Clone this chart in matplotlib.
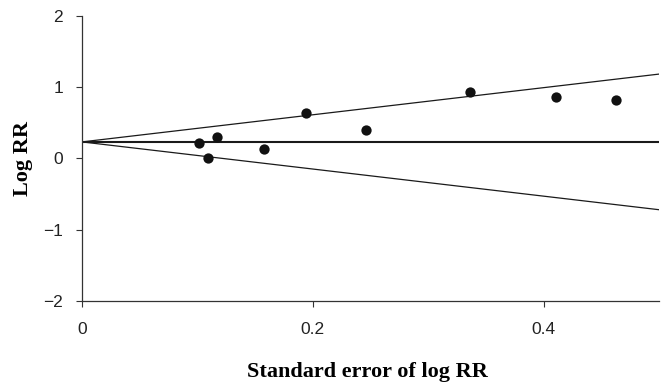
import numpy as np
import matplotlib
matplotlib.use('Agg')
import matplotlib.pyplot as plt

# standard error and log RR of each study
se = [0.101, 0.109, 0.117, 0.158, 0.194, 0.246, 0.336, 0.411, 0.463]
log_rr = [0.22, 0.01, 0.30, 0.13, 0.64, 0.39, 0.93, 0.86, 0.82]

pooled = 0.23
z = 1.9
se_range = [0.0, 0.5]

xticks = [0, 0.2, 0.4]
xtick_labels = ['0', '0.2', '0.4']
yticks = [-2, -1, 0, 1, 2]
ytick_labels = ['\u22122', '\u22121', '0', '1', '2']

fig = plt.figure(figsize=(6.61, 3.89), dpi=100)
ax = fig.add_axes([0.124, 0.226, 0.873, 0.734])

seLine = np.array(se_range)
ax.plot(seLine, [pooled, pooled], color='#1a1a1a', lw=1.5, zorder=2)
ax.plot(seLine, pooled + z * seLine, color='#1a1a1a', lw=0.9, zorder=2)
ax.plot(seLine, pooled - z * seLine, color='#1a1a1a', lw=0.9, zorder=2)
ax.scatter(se, log_rr, s=55, color='#111111', zorder=3, linewidths=0)

ax.set_xlim(se_range)
ax.set_ylim(-2, 2)
ax.set_xticks(xticks)
ax.set_xticklabels(xtick_labels)
ax.set_yticks(yticks)
ax.set_yticklabels(ytick_labels)

for s in ['top', 'right']:
    ax.spines[s].set_visible(False)
for s in ['left', 'bottom']:
    ax.spines[s].set_color('#333333')
    ax.spines[s].set_linewidth(0.9)

ax.tick_params(axis='both', direction='out', length=4.5, width=0.8, color='#333333',
               labelsize=12.5, labelcolor='#222222')
ax.tick_params(axis='x', pad=10.5)
ax.tick_params(axis='y', pad=9)
for lab in ax.get_xticklabels() + ax.get_yticklabels():
    lab.set_family('Liberation Sans')

ax.set_xlabel('Standard error of log RR', family='Liberation Serif', fontweight='bold',
              fontsize=16, va='center')
ax.set_ylabel('Log RR', family='Liberation Serif', fontweight='bold',
              fontsize=16, va='center')
ax.xaxis.set_label_coords(0.495, -0.25)
ax.yaxis.set_label_coords(-0.102, 0.5)

plt.savefig('out.png', dpi=100)
plt.close()
